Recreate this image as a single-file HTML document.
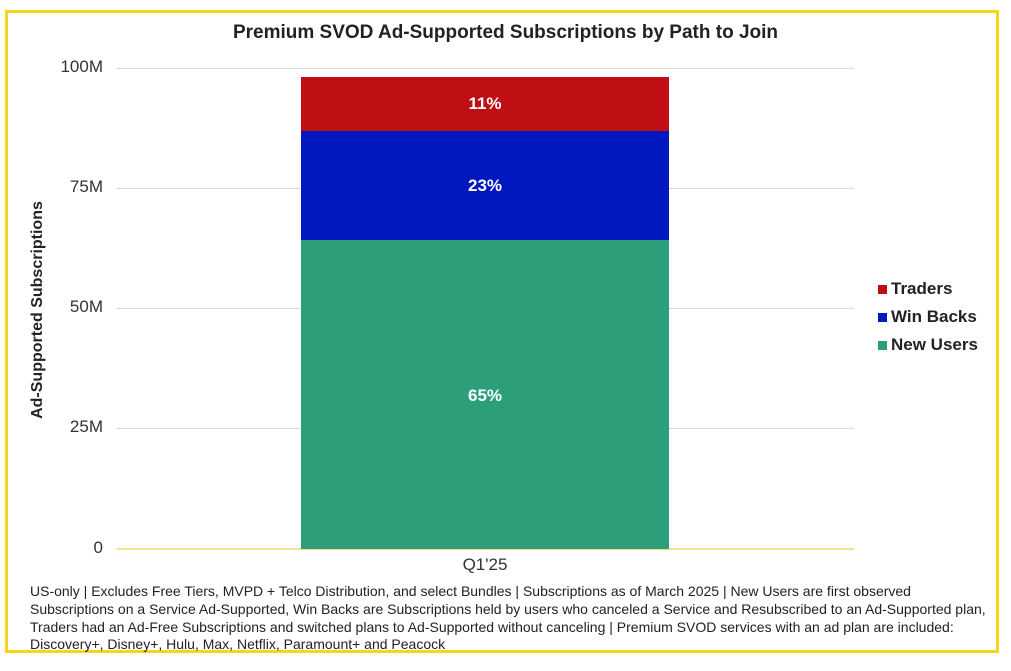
<!DOCTYPE html>
<html><head><meta charset="utf-8"><style>
body{margin:0;width:1011px;height:671px;background:#fff;position:relative;overflow:hidden;font-family:"Liberation Sans",sans-serif;}
.frame{position:absolute;left:5px;top:10px;width:988px;height:637px;border:3px solid #f7d51d;}
.t{position:absolute;white-space:nowrap;}
.grid{position:absolute;left:117px;width:737px;height:1px;background:#dcdcdc;}
.yl{position:absolute;right:908px;font-size:17px;color:#333;}
.lg{position:absolute;left:878px;font-weight:bold;font-size:17px;color:#222;}
.lg i{display:inline-block;width:9px;height:9px;margin-right:4px;}
.fn{position:absolute;left:30px;font-size:14px;color:#222;transform-origin:0 0;transform:scaleX(1.0);white-space:nowrap;}
</style></head><body>
<div class="frame"></div>
<div class="t" style="left:0;width:1011px;text-align:center;top:22px;font-weight:bold;font-size:19px;color:#222;">Premium SVOD Ad-Supported Subscriptions by Path to Join</div>
<div class="grid" style="top:68px"></div>
<div class="grid" style="top:188px"></div>
<div class="grid" style="top:308px"></div>
<div class="grid" style="top:428px"></div>
<div class="grid" style="top:548px;height:2px;background:#f3e38a"></div>
<div class="yl" style="top:57px">100M</div>
<div class="yl" style="top:177px">75M</div>
<div class="yl" style="top:297px">50M</div>
<div class="yl" style="top:417px">25M</div>
<div class="yl" style="top:538px">0</div>
<div class="t" style="left:38px;top:310px;transform:translate(-50%,-50%) rotate(-90deg);font-weight:bold;font-size:16px;color:#222;">Ad-Supported Subscriptions</div>
<div style="position:absolute;left:301px;width:368px;top:77px;height:54px;background:#c00f14;"></div>
<div style="position:absolute;left:301px;width:368px;top:131px;height:109px;background:#0118c1;"></div>
<div style="position:absolute;left:301px;width:368px;top:240px;height:309px;background:#2c9e7a;"></div>
<div class="t" style="left:301px;width:368px;text-align:center;top:94px;color:#fff;font-weight:bold;font-size:17px;">11%</div>
<div class="t" style="left:301px;width:368px;text-align:center;top:176px;color:#fff;font-weight:bold;font-size:17px;">23%</div>
<div class="t" style="left:301px;width:368px;text-align:center;top:386px;color:#fff;font-weight:bold;font-size:17px;">65%</div>
<div class="t" style="left:301px;width:368px;text-align:center;top:555px;font-size:17px;color:#333;">Q1'25</div>
<div class="lg" style="top:279px"><i style="background:#c00f14"></i>Traders</div>
<div class="lg" style="top:307px"><i style="background:#0118c1"></i>Win Backs</div>
<div class="lg" style="top:335px"><i style="background:#2c9e7a"></i>New Users</div>
<div class="fn" style="top:583px">US-only | Excludes Free Tiers, MVPD + Telco Distribution, and select Bundles | Subscriptions as of March 2025 | New Users are first observed</div>
<div class="fn" style="top:601px">Subscriptions on a Service Ad-Supported, Win Backs are Subscriptions held by users who canceled a Service and Resubscribed to an Ad-Supported plan,</div>
<div class="fn" style="top:619px">Traders had an Ad-Free Subscriptions and switched plans to Ad-Supported without canceling | Premium SVOD services with an ad plan are included:</div>
<div class="fn" style="top:636px">Discovery+, Disney+, Hulu, Max, Netflix, Paramount+ and Peacock</div>
</body></html>
